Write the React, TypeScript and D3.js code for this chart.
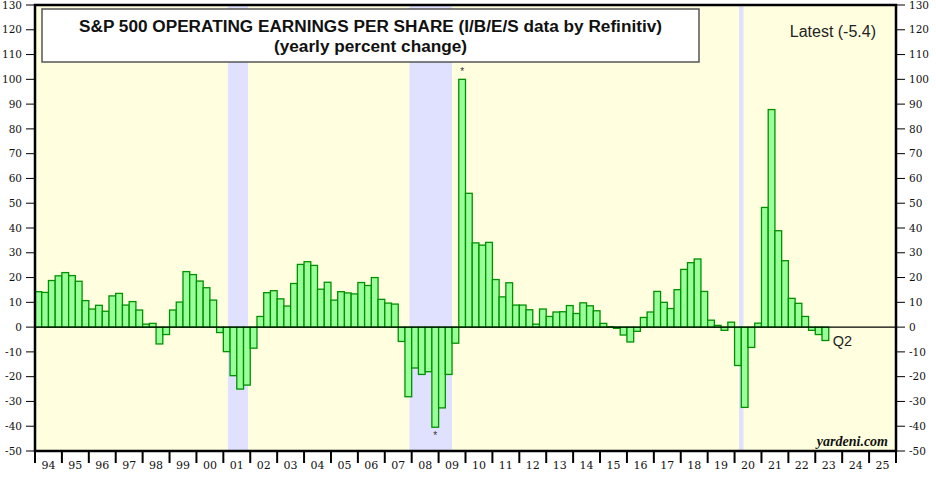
import React from "react";
import * as d3 from "d3";

// yearly % change of S&P 500 operating EPS, quarterly, 1994 Q1 .. 2023 Q2
const startYear = 1994;
const epsChange = [
  14.3, 14.0, 18.8, 20.7, // 94
  22.0, 20.8, 18.5, 10.7, // 95
  7.3, 8.8, 6.4, 12.6, // 96
  13.6, 8.9, 10.3, 6.9, // 97
  1.2, 1.5, -6.8, -3.0, // 98
  6.9, 10.1, 22.4, 21.2, // 99
  18.6, 15.9, 10.9, -2.2, // 00
  -9.9, -19.6, -25.0, -23.4, // 01
  -8.5, 4.3, 13.9, 14.7, // 02
  11.4, 8.5, 17.6, 25.3, // 03
  26.4, 24.9, 15.3, 18.1, // 04
  10.9, 14.3, 13.8, 13.4, // 05
  18.0, 16.8, 20.0, 11.2, // 06
  9.7, 9.3, -5.8, -28.1, // 07
  -16.5, -19.1, -18.0, -40.4, // 08
  -32.6, -19.1, -6.5, 100.0, // 09
  54.0, 34.0, 33.1, 34.2, // 10
  19.2, 12.2, 17.9, 8.9, // 11
  8.9, 7.0, 1.2, 7.3, // 12
  4.3, 6.1, 6.2, 8.7, // 13
  5.5, 9.8, 8.6, 6.6, // 14
  1.5, 0.2, -0.5, -3.2, // 15
  -6.0, -1.7, 3.9, 6.1, // 16
  14.4, 10.0, 7.5, 15.1, // 17
  23.3, 26.0, 27.5, 14.4, // 18
  2.8, 0.7, -1.3, 2.0, // 19
  -15.5, -32.4, -8.2, 1.6, // 20
  48.3, 87.8, 38.9, 26.8, // 21
  11.6, 9.6, 4.3, -1.3, // 22
  -3.0, -5.4, // 23
];

// quarters that are off the scale (marked with *)
const cappedIndex = [59, 63];

// recessions (decimal years)
const recessions = [
  [2001.167, 2001.917],
  [2007.917, 2009.5],
  [2020.167, 2020.333],
];

const years = d3.range(1994, 2026);
const yTicks = d3.range(-50, 131, 10);

const titleLines = [
  "S&P 500 OPERATING EARNINGS PER SHARE (I/B/E/S data by Refinitiv)",
  "(yearly percent change)",
];
const latestLabel = "Latest (-5.4)";
const lastQuarterLabel = "Q2";

export default function App() {
  const width = 936;
  const height = 482;
  const plot = { left: 35, right: 896, top: 5, bottom: 451 };

  const x = d3.scaleLinear().domain([1994, 2026]).range([plot.left, plot.right]);
  const y = d3.scaleLinear().domain([-50, 130]).range([plot.bottom, plot.top]);

  const q = (i: number) => startYear + i / 4;
  const last = epsChange.length - 1;

  const axisFont = "'DejaVu Serif', serif";
  const sans = "'Liberation Sans', Arial, sans-serif";

  return (
    <svg
      width={width}
      height={height}
      style={{ position: "absolute", left: 0, top: 0, background: "#fff" }}
    >
      {/* plot background */}
      <rect
        x={plot.left}
        y={plot.top}
        width={plot.right - plot.left}
        height={plot.bottom - plot.top}
        fill="#ffffe0"
      />

      {/* recession bands */}
      {recessions.map(([a, b], i) => (
        <rect
          key={i}
          x={x(a)}
          y={plot.top}
          width={x(b) - x(a)}
          height={plot.bottom - plot.top}
          fill="#e0e0ff"
        />
      ))}

      {/* bars */}
      {epsChange.map((v, i) => (
        <rect
          key={i}
          x={x(q(i))}
          y={y(Math.max(0, v))}
          width={x(q(i + 1)) - x(q(i))}
          height={Math.abs(y(v) - y(0))}
          fill="#99ff99"
          stroke="#009000"
          strokeWidth={1.3}
        />
      ))}

      {/* asterisks for capped values */}
      {cappedIndex.map((i) => {
        const v = epsChange[i];
        const cx = (x(q(i)) + x(q(i + 1))) / 2;
        return (
          <text
            key={i}
            x={cx}
            y={v > 0 ? y(v) - 4 : y(v) + 12}
            textAnchor="middle"
            fontSize={10}
            fontFamily={sans}
            fill="#333"
          >
            *
          </text>
        );
      })}

      {/* zero line */}
      <line x1={plot.left} x2={plot.right} y1={y(0)} y2={y(0)} stroke="#000" strokeWidth={1.3} />

      {/* frame */}
      <rect
        x={plot.left}
        y={plot.top}
        width={plot.right - plot.left}
        height={plot.bottom - plot.top}
        fill="none"
        stroke="#000"
        strokeWidth={2.5}
      />

      {/* y axes, both sides */}
      {yTicks.map((t) => (
        <g key={t} transform={`translate(0,${y(t)})`}>
          <line x1={26} x2={plot.left} stroke="#000" strokeWidth={1} />
          <line x1={plot.right} x2={905} stroke="#000" strokeWidth={1} />
          <text x={22} dy="0.35em" textAnchor="end" fontSize={10.5} fontFamily={axisFont} fill="#111">
            {t}
          </text>
          <text x={909} dy="0.35em" textAnchor="start" fontSize={10.5} fontFamily={axisFont} fill="#111">
            {t}
          </text>
        </g>
      ))}

      {/* x axis */}
      {d3.range(1994, 2027).map((yr) => (
        <line
          key={yr}
          x1={x(yr)}
          x2={x(yr)}
          y1={plot.bottom}
          y2={463}
          stroke="#000"
          strokeWidth={2}
        />
      ))}
      {years.map((yr) => (
        <text
          key={yr}
          x={x(yr + 0.5)}
          y={469}
          textAnchor="middle"
          fontSize={11}
          fontFamily={axisFont}
          fill="#111"
        >
          {String(yr % 100).padStart(2, "0")}
        </text>
      ))}

      {/* title box */}
      <rect x={42} y={9} width={657} height={53} fill="#fff" stroke="#555" strokeWidth={1.5} />
      {titleLines.map((line, i) => (
        <text
          key={i}
          x={370.5}
          y={32 + i * 20}
          textAnchor="middle"
          fontSize={17.2}
          fontWeight="bold"
          fontFamily={sans}
          fill="#111"
        >
          {line}
        </text>
      ))}

      <text x={876} y={37} textAnchor="end" fontSize={16} fontFamily={sans} fill="#222">
        {latestLabel}
      </text>

      <text
        x={x(q(last + 1)) + 4}
        y={y(epsChange[last]) + 5.5}
        fontSize={14.5}
        fontFamily={sans}
        fill="#222"
      >
        {lastQuarterLabel}
      </text>

      <text
        x={888}
        y={446}
        textAnchor="end"
        fontSize={14}
        fontWeight="bold"
        fontStyle="italic"
        fontFamily="'Liberation Serif', 'Times New Roman', serif"
        fill="#111"
      >
        yardeni.com
      </text>
    </svg>
  );
}
